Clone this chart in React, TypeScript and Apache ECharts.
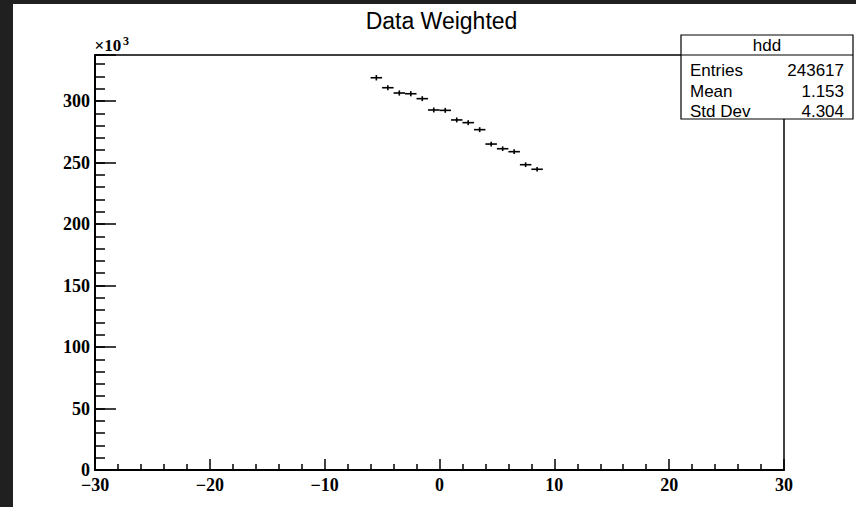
import React, { useEffect, useRef } from "react";
import * as echarts from "echarts";

// Bin centres (x) of the filled bins, bin width 1
const binCenters = [-5.5, -4.5, -3.5, -2.5, -1.5, -0.5, 0.5, 1.5, 2.5, 3.5, 4.5, 5.5, 6.5, 7.5, 8.5];
// Weighted bin contents, in units of 10^3
const binContents = [318.9, 310.8, 306.5, 305.9, 301.9, 292.7, 292.4, 284.6, 282.4, 276.7, 265.0, 261.2, 258.8, 248.2, 244.5];
// Errors on the contents, in units of 10^3
const binErrors = [2.2, 2.1, 2.1, 2.1, 2.0, 2.0, 2.0, 2.0, 2.0, 2.0, 1.9, 1.9, 1.9, 1.9, 1.9];
const binHalfWidth = 0.5;

const histTitle = "Data Weighted";
const statsName = "hdd";
const statsLabels = ["Entries", "Mean", "Std Dev"];
const statsValues = ["243617", "1.153", "4.304"];

const X_MIN = -30;
const X_MAX = 30;
const Y_MIN = 0;
const Y_MAX = 337.4;

const SERIF = "Liberation Serif";
const SANS = "Liberation Sans";

export default function App() {
  const ref = useRef<HTMLDivElement>(null);

  useEffect(() => {
    if (!ref.current) return;
    const chart = echarts.init(ref.current, undefined, { renderer: "svg" });

    const data = binCenters.map((x, i) => [x, binContents[i], binErrors[i]]);

    const statsTop = 35;
    const statsLeft = 681;
    const statsW = 172;
    const statsH = 84;
    const rowY = [70, 91, 111];

    const sansText = (text: string, x: number, y: number, align: string, size = 17) => ({
      type: "text",
      x,
      y,
      style: {
        text,
        fill: "#000",
        fontFamily: SANS,
        fontSize: size,
        fontWeight: "normal",
        align,
        verticalAlign: "middle",
      },
      z: 101,
    });

    const option: any = {
      animation: false,
      backgroundColor: "#ffffff",
      grid: {
        left: 95,
        right: 72,
        top: 55,
        bottom: 37,
        show: true,
        borderColor: "#000",
        borderWidth: 1.5,
        backgroundColor: "transparent",
        containLabel: false,
      },
      xAxis: {
        type: "value",
        min: X_MIN,
        max: X_MAX,
        interval: 10,
        axisLine: { show: true, onZero: false, lineStyle: { color: "#000", width: 2 } },
        axisTick: { show: true, inside: true, length: 11, lineStyle: { color: "#000", width: 1.5 } },
        minorTick: { show: true, splitNumber: 5, length: 6, lineStyle: { color: "#000", width: 1.5 } },
        splitLine: { show: false },
        axisLabel: {
          show: true,
          margin: 8,
          color: "#000",
          fontFamily: SERIF,
          fontWeight: "bold",
          fontSize: 18,
          lineHeight: 14,
          formatter: (v: number) => (v < 0 ? "\u2212" + Math.abs(v) : String(v)),
        },
      },
      yAxis: [
        {
          type: "value",
          min: Y_MIN,
          max: Y_MAX,
          interval: 50,
          position: "left",
          axisLine: { show: true, onZero: false, lineStyle: { color: "#000", width: 2 } },
          axisTick: { show: true, inside: true, length: 21, lineStyle: { color: "#000", width: 1.5 } },
          minorTick: { show: false },
          splitLine: { show: false },
          axisLabel: {
            show: true,
            margin: 5,
            color: "#000",
            fontFamily: SERIF,
            fontWeight: "bold",
            fontSize: 18,
            lineHeight: 12,
            formatter: (v: number) => (Math.abs(v % 50) < 1e-6 ? String(v) : ""),
          },
        },
        {
          type: "value",
          min: Y_MIN,
          max: Y_MAX,
          interval: 10,
          position: "left",
          offset: 0,
          axisLine: { show: false, onZero: false },
          axisTick: { show: true, inside: true, length: 10, lineStyle: { color: "#000", width: 1.5 } },
          minorTick: { show: false },
          splitLine: { show: false },
          axisLabel: { show: false },
        },
      ],
      series: [
        {
          type: "custom",
          xAxisIndex: 0,
          yAxisIndex: 0,
          data,
          clip: true,
          renderItem: (params: any, api: any) => {
            const x = api.value(0);
            const y = api.value(1);
            const e = api.value(2);
            const left = api.coord([x - binHalfWidth, y]);
            const right = api.coord([x + binHalfWidth, y]);
            const lo = api.coord([x, y - e]);
            const hi = api.coord([x, y + e]);
            const style = { stroke: "#000", lineWidth: 1.6 };
            return {
              type: "group",
              children: [
                { type: "line", shape: { x1: left[0], y1: left[1], x2: right[0], y2: right[1] }, style },
                { type: "line", shape: { x1: lo[0], y1: lo[1], x2: hi[0], y2: hi[1] }, style },
              ],
            };
          },
        },
      ],
      graphic: [
        // dark surround of the canvas
        { type: "rect", shape: { x: 0, y: 0, width: 13, height: 507 }, style: { fill: "#202020" }, z: 100 },
        { type: "rect", shape: { x: 0, y: 0, width: 856, height: 4 }, style: { fill: "#202020" }, z: 100 },
        // title
        sansText(histTitle, 441.5, 20.5, "center", 23),
        // exponent label
        {
          type: "text",
          x: 94.5,
          y: 53.5,
          style: {
            text: "\u00d710",
            fill: "#000",
            fontFamily: SERIF,
            fontWeight: "bold",
            fontSize: 17,
            align: "left",
            verticalAlign: "bottom",
          },
          z: 100,
        },
        {
          type: "text",
          x: 123,
          y: 35,
          style: {
            text: "3",
            fill: "#000",
            fontFamily: SERIF,
            fontWeight: "bold",
            fontSize: 12,
            align: "left",
            verticalAlign: "top",
          },
          z: 100,
        },
        // stats box
        {
          type: "rect",
          shape: { x: statsLeft, y: statsTop, width: statsW, height: statsH },
          style: { fill: "#fff", stroke: "#000", lineWidth: 1.2 },
          z: 100,
        },
        {
          type: "line",
          shape: { x1: statsLeft, y1: 55, x2: statsLeft + statsW, y2: 55 },
          style: { stroke: "#000", lineWidth: 1.2 },
          z: 101,
        },
        sansText(statsName, statsLeft + statsW / 2, 45, "center"),
        ...statsLabels.map((t, i) => sansText(t, 690, rowY[i], "left")),
        ...statsValues.map((t, i) => sansText(t, 844, rowY[i], "right")),
      ],
    };

    chart.setOption(option);
    return () => {
      chart.dispose();
    };
  }, []);

  return (
    <div
      ref={ref}
      style={{ position: "absolute", left: 0, top: 0, width: 856, height: 507, background: "#fff" }}
    />
  );
}
